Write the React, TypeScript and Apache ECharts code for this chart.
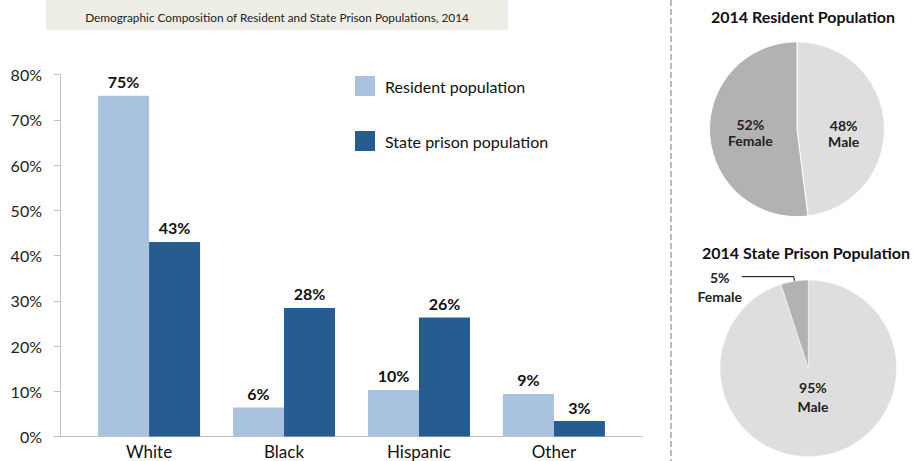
import React, { useEffect, useRef } from "react";
import * as echarts from "echarts";

const categories = ["White", "Black", "Hispanic", "Other"];
const residentValues = [75.3, 6.4, 10.3, 9.4];
const prisonValues = [43.0, 28.4, 26.3, 3.4];
const seriesNames = ["Resident population", "State prison population"];
const yMin = 0;
const yMax = 80;
const yInterval = 10;
const residentGender = [
  { name: "Male", value: 48 },
  { name: "Female", value: 52 },
];
const prisonGender = [
  { name: "Male", value: 95 },
  { name: "Female", value: 5 },
];
const chartTitle = "Demographic Composition of Resident and State Prison Populations, 2014";
const pieTitles = ["2014 Resident Population", "2014 State Prison Population"];

const FONT = "Lato";
const LIGHT = "#A8C2E0";
const DARK = "#275C91";
const PIE_LIGHT = "#DEDEDE";
const PIE_DARK = "#B2B2B2";

export default function App() {
  const ref = useRef<HTMLDivElement>(null);
  useEffect(() => {
    document.body.style.margin = "0";
    const chart = echarts.init(ref.current!, null, { renderer: "svg" });
    const pieLabelFmt = (p: any) => `${p.value}%\n${p.name}`;
    const barLabel = {
      show: true,
      position: "top",
      distance: 6,
      fontSize: 16,
      fontWeight: "bold",
      color: "#111",
      fontFamily: FONT,
      formatter: (p: any) => `${Math.round(p.value[1])}%`,
    };
    chart.setOption({
      animation: false,
      textStyle: { fontFamily: FONT },
      title: [
        {
          text: chartTitle,
          left: 277,
          top: 11,
          padding: 0,
          textAlign: "center",
          textStyle: { fontSize: 11.8, fontWeight: "normal", color: "#222", fontFamily: FONT },
        },
        {
          text: pieTitles[0],
          left: 803,
          top: 8,
          padding: 0,
          textAlign: "center",
          textStyle: { fontSize: 16, fontWeight: "bold", color: "#111", fontFamily: FONT },
        },
        {
          text: pieTitles[1],
          left: 806,
          top: 244.5,
          padding: 0,
          textAlign: "center",
          textStyle: { fontSize: 16, fontWeight: "bold", color: "#111", fontFamily: FONT },
        },
      ],
      graphic: [
        {
          type: "rect",
          z: -10,
          shape: { x: 46, y: 0, width: 462, height: 30 },
          style: { fill: "#EEEEE6" },
        },
        {
          type: "line",
          shape: { x1: 671, y1: 0, x2: 671, y2: 461 },
          style: { stroke: "#A6A6A6", lineWidth: 1.5, lineDash: [6, 3] },
        },
      ],
      legend: {
        data: seriesNames,
        orient: "vertical",
        left: 355,
        top: 76,
        padding: 0,
        itemWidth: 20,
        itemHeight: 20,
        itemGap: 35,
        icon: "rect",
        selectedMode: false,
        textStyle: { fontSize: 16, color: "#111", fontFamily: FONT, padding: [0, 0, 0, 5] },
      },
      grid: { left: 60, right: 277, top: 74.5, bottom: 24.5, containLabel: false },
      xAxis: {
        type: "value",
        min: -0.66,
        max: 3.66,
        splitLine: { show: false },
        axisTick: { show: false },
        axisLine: { show: true, onZero: false, lineStyle: { color: "#C0C0C0", width: 1 } },
        axisLabel: {
          customValues: categories.map((_, i) => i),
          formatter: (v: number) => categories[Math.round(v)] ?? "",
          fontSize: 17,
          color: "#111",
          margin: 6,
          fontFamily: FONT,
        },
      },
      yAxis: {
        type: "value",
        min: yMin,
        max: yMax,
        interval: yInterval,
        splitLine: { show: false },
        axisLine: { show: true, onZero: false, lineStyle: { color: "#C0C0C0", width: 1 } },
        axisTick: { show: true, length: 6, lineStyle: { color: "#C0C0C0" } },
        axisLabel: {
          formatter: "{value}%",
          fontSize: 16,
          color: "#222",
          margin: 18,
          fontFamily: FONT,
        },
      },
      series: [
        {
          name: seriesNames[0],
          type: "bar",
          barWidth: 51,
          barGap: "0%",
          itemStyle: { color: LIGHT },
          data: residentValues.map((v, i) => [i, v]),
          label: barLabel,
          labelLine: { show: false },
        },
        {
          name: seriesNames[1],
          type: "bar",
          barWidth: 51,
          barGap: "0%",
          itemStyle: { color: DARK },
          data: prisonValues.map((v, i) => [i, v]),
          label: barLabel,
          labelLine: { show: false },
        },
        {
          type: "pie",
          center: [797, 129.2],
          radius: 87.5,
          startAngle: 90,
          clockwise: true,
          silent: true,
          avoidLabelOverlap: false,
          itemStyle: { borderColor: "#fff", borderWidth: 1 },
          label: {
            show: true,
            position: "inside",
            formatter: pieLabelFmt,
            fontSize: 14,
            fontWeight: "bold",
            lineHeight: 16,
            color: "#222",
            fontFamily: FONT,
          },
          labelLayout: (p: any) => (p.dataIndex === 0 ? { dy: 7 } : { dy: 0.5 }),
          labelLine: { show: false },
          data: residentGender.map((d) => ({
            ...d,
            itemStyle: { color: d.name === "Male" ? PIE_LIGHT : PIE_DARK },
          })),
        },
        {
          type: "pie",
          center: [808.3, 368.3],
          radius: 88.3,
          startAngle: 90,
          clockwise: true,
          silent: true,
          avoidLabelOverlap: false,
          itemStyle: { borderColor: "#fff", borderWidth: 0.5 },
          label: {
            show: true,
            position: "inside",
            formatter: pieLabelFmt,
            fontSize: 14,
            fontWeight: "bold",
            lineHeight: 19,
            color: "#222",
            fontFamily: FONT,
          },
          labelLayout: (p: any) => (p.dataIndex === 0 ? { dx: -2.7, dy: -18 } : {}),
          labelLine: { show: false },
          data: prisonGender.map((d) =>
            d.name === "Male"
              ? {
                  ...d,
                  itemStyle: { color: PIE_LIGHT },
                }
              : {
                  ...d,
                  itemStyle: { color: PIE_DARK },
                  label: {
                    position: "outside",
                    distanceToLabelLine: -2,
                    padding: [21, 0, 0, 0],
                    formatter: (p: any) => `{a|${p.value}%}\n{a|${p.name}}`,
                    rich: {
                      a: {
                        width: 48,
                        align: "center",
                        fontSize: 14,
                        fontWeight: "bold",
                        lineHeight: 19,
                        color: "#222",
                        fontFamily: FONT,
                      },
                    },
                  },
                  labelLine: {
                    show: true,
                    length: 4.5,
                    length2: 52,
                    smooth: false,
                    lineStyle: { color: "#000", width: 1 },
                  },
                }
          ),
        },
      ],
    });
    return () => chart.dispose();
  }, []);
  return (
    <div
      ref={ref}
      style={{ position: "absolute", left: 0, top: 0, width: 920, height: 461 }}
    />
  );
}
